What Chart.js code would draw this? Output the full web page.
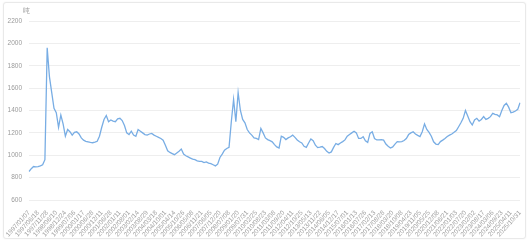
<!DOCTYPE html>
<html>
<head>
<meta charset="utf-8">
<script src="https://cdn.jsdelivr.net/npm/chart.js@4.4.1/dist/chart.umd.min.js"></script>
<style>
  html, body { margin: 0; padding: 0; background: #ffffff; }
  body { width: 530px; height: 245px; position: relative; overflow: hidden; font-family: "Liberation Sans", Arial, sans-serif; }
  #card { position: absolute; left: 3px; top: 2px; width: 521px; height: 235px; border: 1px solid #e9e9e9; border-radius: 3px; box-shadow: 0 0 2px rgba(0,0,0,0.06); background: #fff; }
  #wrap { position: absolute; left: 0; top: 0; width: 530px; height: 245px; }
  #unit { position: absolute; left: 23px; top: 6px; font-size: 7px; color: #999; }
</style>
</head>
<body>
<div id="card"></div>
<div id="wrap"><canvas id="c" width="530" height="245"></canvas></div>
<div id="unit">吨</div>
<script>
const tickLabels = ["1997/01/07","1997/06/18","1997/11/28","1998/06/10","1998/12/24","1999/07/06","2000/01/17","2000/06/28","2000/12/11","2001/06/28","2002/01/11","2002/08/01","2003/02/14","2003/08/29","2004/03/18","2004/10/01","2005/04/14","2005/10/26","2006/05/08","2006/11/21","2007/06/05","2007/12/20","2008/07/08","2009/01/20","2009/07/31","2010/02/25","2010/08/23","2011/03/08","2011/09/20","2012/04/11","2012/10/25","2013/05/13","2013/11/22","2014/06/05","2014/12/17","2015/07/01","2016/01/13","2016/07/26","2017/02/13","2017/08/28","2018/03/20","2018/10/08","2019/04/23","2019/11/05","2020/05/25","2020/12/08","2021/06/21","2022/01/03","2022/07/20","2023/02/02","2023/08/17","2024/03/06","2024/09/23","2025/04/11","2025/10/31"];

const priceValues = [
  855, 880, 899, 897, 899, 905, 914, 960,
  1960,
  1700, 1560, 1420, 1380, 1250, 1360, 1280, 1170,
  1230, 1210, 1180, 1205, 1210, 1190, 1155, 1135,
  1125, 1120, 1115, 1112, 1118, 1125, 1170, 1250,
  1320, 1355, 1300, 1315, 1305, 1300, 1325, 1330,
  1310, 1265, 1200, 1185, 1215, 1180, 1170, 1230,
  1215, 1200, 1185, 1180, 1190, 1195, 1180, 1170,
  1160, 1150, 1135, 1090, 1040, 1025, 1015, 1005,
  1020, 1035, 1055, 1010, 995, 985, 975, 965,
  960, 950, 945, 945, 935, 940, 930, 925,
  915, 905, 920, 980, 1010, 1045, 1060, 1070,
  1300, 1500, 1300, 1560, 1400, 1320, 1290, 1230,
  1200, 1180, 1155, 1150, 1140, 1240, 1200, 1155,
  1140, 1130, 1120, 1095, 1075, 1065, 1170, 1160,
  1140, 1155, 1165, 1180, 1160, 1137, 1120, 1110,
  1080, 1070, 1110, 1145, 1130, 1090, 1068, 1072,
  1078, 1060, 1035, 1020, 1030, 1070, 1105, 1095,
  1110, 1122, 1137, 1170, 1185, 1200, 1215, 1200,
  1150, 1150, 1165, 1130, 1115, 1195, 1210, 1150,
  1137, 1137, 1140, 1135, 1100, 1080, 1065, 1075,
  1100, 1122, 1120, 1122, 1132, 1150, 1185, 1200,
  1210, 1190, 1178, 1167, 1210, 1280, 1230, 1205,
  1170, 1120, 1100, 1095, 1122, 1135, 1150, 1167,
  1180, 1190, 1205, 1220, 1255, 1290, 1330, 1400,
  1350, 1300, 1270, 1315, 1330, 1305, 1320, 1345,
  1320, 1330, 1345, 1375, 1365, 1360, 1345, 1400,
  1445, 1465, 1430, 1380, 1385, 1395, 1410, 1470
];

const yTicks = [600, 800, 1000, 1200, 1400, 1600, 1800, 2000, 2200];
const pointsPerTick = 4;

const labels = priceValues.map((_, i) => (i % pointsPerTick === 0 ? (tickLabels[i / pointsPerTick] || '') : ''));

new Chart(document.getElementById('c'), {
  type: 'line',
  data: {
    labels: labels,
    datasets: [{
      data: priceValues,
      borderColor: '#78ade4',
      borderWidth: 1.3,
      pointRadius: 0,
      tension: 0,
      fill: false
    }]
  },
  options: {
    responsive: false,
    animation: false,
    events: [],
    layout: { padding: { left: 0, right: 10, top: 21, bottom: 8 } },
    plugins: { legend: { display: false }, tooltip: { enabled: false }, title: { display: false } },
    scales: {
      x: {
        type: 'category',
        grid: { display: false },
        border: { display: false },
        afterFit: (s) => { s.height = 37; },
        ticks: {
          autoSkip: false,
          minRotation: 48,
          maxRotation: 48,
          padding: 1,
          color: '#a0a0a0',
          font: { size: 6.5, family: 'Liberation Sans' }
        }
      },
      y: {
        min: 600,
        max: 2200,
        afterFit: (s) => { s.width = 29; },
        afterBuildTicks: (s) => { s.ticks = yTicks.map(v => ({ value: v })); },
        grid: { color: '#eeeeee', drawTicks: false, lineWidth: 1 },
        border: { display: false },
        ticks: {
          padding: 7,
          color: '#9a9a9a',
          font: { size: 6.5, family: 'Liberation Sans' },
          callback: (v) => String(v)
        }
      }
    }
  }
});
</script>
</body>
</html>
